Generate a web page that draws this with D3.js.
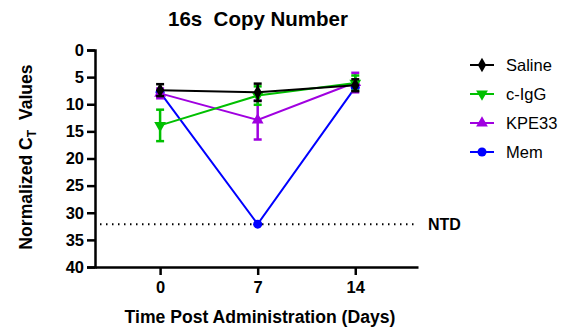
<!DOCTYPE html>
<html>
<head>
<meta charset="utf-8">
<script src="https://cdn.jsdelivr.net/npm/d3@7"></script>
<style>
  body { margin: 0; background: #fff; }
  svg { font-family: "Liberation Sans", Arial, sans-serif; }
</style>
</head>
<body>
<div id="chart"></div>
<script>
// data
var days = [0, 7, 14];
var seriesNames = ["Saline", "c-IgG", "KPE33", "Mem"];
var seriesColors = ["#000000", "#00c000", "#a000e0", "#0000ff"];
var seriesShapes = ["diamond", "triangleDown", "triangleUp", "circle"];
var salineMean = [7.4, 7.8, 6.5];
var salineErr = [1.1, 1.6, 1.1];
var iggMean = [13.9, 8.4, 6.1];
var iggErr = [2.9, 1.7, 1.4];
var kpeMean = [8.0, 12.9, 6.0];
var kpeErr = [0.9, 3.6, 1.8];
var memMean = [7.8, 32.1, 6.9];
var memErr = [0, 0, 0];
var yTicks = [0, 5, 10, 15, 20, 25, 30, 35, 40];
var ntdLevel = 32.1;

var width = 574, height = 333;

var svg = d3.select("#chart")
    .append("svg")
    .attr("width", width)
    .attr("height", height);

// scales
var x = d3.scaleLinear().domain([-4.67, 18.5]).range([95, 418]);
var y = d3.scaleLinear().domain([0, 40]).range([50, 267]);

// title
svg.append("text")
    .attr("x", 258).attr("y", 26)
    .attr("text-anchor", "middle")
    .attr("font-weight", "bold")
    .attr("font-size", 20.5)
    .attr("xml:space", "preserve")
    .text("16s  Copy Number");

// y axis
var yAxis = svg.append("g")
    .attr("transform", "translate(95,0)")
    .call(d3.axisLeft(y).tickValues(yTicks).tickSize(8).tickPadding(3));
yAxis.select(".domain").attr("stroke-width", 2.5);
yAxis.selectAll(".tick line").attr("stroke-width", 2.5);
yAxis.selectAll("text")
    .attr("font-size", 16.5).attr("font-weight", "bold")
    .attr("font-family", "Liberation Sans, Arial, sans-serif")
    .attr("fill", "#000");

// x axis
var xAxis = svg.append("g")
    .attr("transform", "translate(0,267)")
    .call(d3.axisBottom(x).tickValues(days).tickSize(8).tickPadding(6).tickSizeOuter(0));
xAxis.select(".domain").attr("stroke-width", 2.5);
xAxis.selectAll(".tick line").attr("stroke-width", 2.5);
xAxis.selectAll("text")
    .attr("font-size", 16.5).attr("font-weight", "bold")
    .attr("font-family", "Liberation Sans, Arial, sans-serif")
    .attr("fill", "#000");

// axis titles
svg.append("text")
    .attr("x", 260).attr("y", 323)
    .attr("text-anchor", "middle")
    .attr("font-weight", "bold")
    .attr("font-size", 17.6)
    .text("Time Post Administration (Days)");

var yTitle = svg.append("text")
    .attr("transform", "translate(32,157) rotate(-90)")
    .attr("text-anchor", "middle")
    .attr("font-weight", "bold")
    .attr("font-size", 17.6);
yTitle.append("tspan").text("Normalized C");
yTitle.append("tspan").attr("font-size", 12).attr("dy", 4).text("T");
yTitle.append("tspan").attr("dy", -4).attr("xml:space", "preserve").text("  Values");

// NTD dotted line
svg.append("line")
    .attr("x1", 100).attr("x2", 416)
    .attr("y1", y(ntdLevel)).attr("y2", y(ntdLevel))
    .attr("stroke", "#000")
    .attr("stroke-width", 2)
    .attr("stroke-dasharray", "1.5,4.5");
svg.append("text")
    .attr("x", 428).attr("y", y(ntdLevel) + 6)
    .attr("font-weight", "bold")
    .attr("font-size", 16)
    .text("NTD");

// symbol helper
function symbolPath(shape) {
    var t = {
        diamond: d3.symbolDiamond,
        triangleDown: d3.symbolTriangle,
        triangleUp: d3.symbolTriangle,
        circle: d3.symbolCircle
    }[shape];
    var size = shape == "circle" ? 64 : 60;
    return d3.symbol().type(t).size(size)();
}

var allSeries = [
    { mean: salineMean, err: salineErr },
    { mean: iggMean, err: iggErr },
    { mean: kpeMean, err: kpeErr },
    { mean: memMean, err: memErr }
];

var line = d3.line()
    .x(function(d) { return x(d.day); })
    .y(function(d) { return y(d.v); });

// draw from last to first so Saline sits on top
for (var s = allSeries.length - 1; s >= 0; s--) {
    var pts = days.map(function(dd, i) {
        return { day: dd, v: allSeries[s].mean[i], e: allSeries[s].err[i] };
    });
    var col = seriesColors[s];
    var g = svg.append("g");

    g.append("path")
        .datum(pts)
        .attr("d", line)
        .attr("fill", "none")
        .attr("stroke", col)
        .attr("stroke-width", 2);

    // error bars
    pts.forEach(function(p) {
        if (p.e <= 0) return;
        var cx = x(p.day);
        g.append("line")
            .attr("x1", cx).attr("x2", cx)
            .attr("y1", y(p.v - p.e)).attr("y2", y(p.v + p.e))
            .attr("stroke", col).attr("stroke-width", 2.5);
        [p.v - p.e, p.v + p.e].forEach(function(v) {
            g.append("line")
                .attr("x1", cx - 4).attr("x2", cx + 4)
                .attr("y1", y(v)).attr("y2", y(v))
                .attr("stroke", col).attr("stroke-width", 2.5);
        });
    });

    var shape = seriesShapes[s];
    g.selectAll("path.mk")
        .data(pts)
        .enter()
        .append("path")
        .attr("class", "mk")
        .attr("d", symbolPath(shape))
        .attr("transform", function(d) {
            return "translate(" + x(d.day) + "," + y(d.v) + ")" + (shape == "triangleDown" ? " rotate(180)" : "");
        })
        .attr("fill", col);
}

// legend
var legend = svg.append("g");
seriesNames.forEach(function(name, i) {
    var ly = 65 + i * 29;
    legend.append("line")
        .attr("x1", 470).attr("x2", 494)
        .attr("y1", ly).attr("y2", ly)
        .attr("stroke", seriesColors[i]).attr("stroke-width", 2);
    legend.append("path")
        .attr("d", symbolPath(seriesShapes[i]))
        .attr("transform", "translate(482," + ly + ")" + (seriesShapes[i] == "triangleDown" ? " rotate(180)" : ""))
        .attr("fill", seriesColors[i]);
    legend.append("text")
        .attr("x", 506).attr("y", ly + 6)
        .attr("font-size", 16.5)
        .text(name);
});
</script>
</body>
</html>
